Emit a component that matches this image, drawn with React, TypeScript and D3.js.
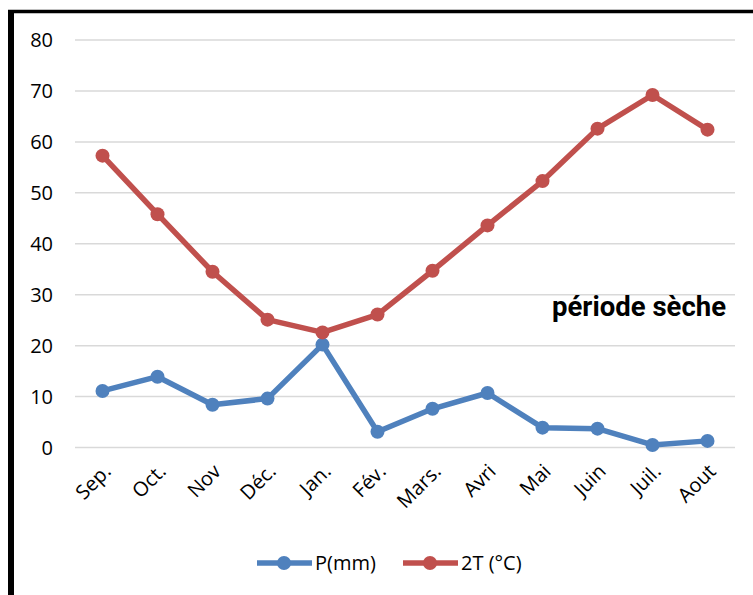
import React from "react";
import * as d3 from "d3";

const months = ["Sep.", "Oct.", "Nov", "Déc.", "Jan.", "Fév.", "Mars.", "Avri", "Mai", "Juin", "Juil.", "Aout"];
const precipitation = [11.1, 13.9, 8.4, 9.6, 20.2, 3.1, 7.6, 10.7, 3.9, 3.7, 0.5, 1.3];
const doubleTemp = [57.3, 45.8, 34.5, 25.1, 22.6, 26.1, 34.7, 43.6, 52.3, 62.6, 69.2, 62.4];
const yTicks = [0, 10, 20, 30, 40, 50, 60, 70, 80];
const seriesNames = ["P(mm)", "2T (°C)"];
const annotation = "période sèche";

const W = 753;
const H = 595;
const BLUE = "#4F81BD";
const RED = "#C0504D";
const FONT = "'Open Sans', 'Noto Sans', sans-serif";

export default function App() {
  const x = d3.scaleBand<string>().domain(months).range([75, 735]);
  const y = d3.scaleLinear().domain([0, 80]).range([447.5, 40]);
  const cx = (m: string) => (x(m) ?? 0) + x.bandwidth() / 2;

  const line = d3
    .line<number>()
    .x((_, i) => cx(months[i]))
    .y((v) => y(v));

  const series = [
    { name: seriesNames[0], values: precipitation, color: BLUE },
    { name: seriesNames[1], values: doubleTemp, color: RED },
  ];

  return (
    <svg
      width={W}
      height={H}
      style={{ position: "absolute", left: 0, top: 0, background: "#fff" }}
    >
      {/* frame */}
      <line x1={8} x2={W} y1={11.5} y2={11.5} stroke="#000" strokeWidth={3.5} />
      <line x1={11} x2={11} y1={10} y2={H} stroke="#000" strokeWidth={6} />

      {/* gridlines and y tick labels */}
      {yTicks.map((t) => (
        <g key={t}>
          <line x1={75} x2={735} y1={y(t)} y2={y(t)} stroke="#d9d9d9" strokeWidth={1.5} />
          <text
            x={53}
            y={y(t)}
            dy="0.36em"
            textAnchor="end"
            fontFamily={FONT}
            fontSize={20}
            fill="#000"
          >
            {t}
          </text>
        </g>
      ))}

      {/* x category labels */}
      {months.map((m) => (
        <text
          key={m}
          transform={`translate(${cx(m) - 1},${462}) rotate(-45)`}
          textAnchor="end"
          dy="0.75em"
          fontFamily={FONT}
          fontSize={20}
          fill="#000"
        >
          {m}
        </text>
      ))}

      {/* series */}
      {series.map((s) => (
        <g key={s.name}>
          <path
            d={line(s.values) ?? ""}
            fill="none"
            stroke={s.color}
            strokeWidth={5.5}
            strokeLinejoin="round"
          />
          {s.values.map((v, i) => (
            <circle key={i} cx={cx(months[i])} cy={y(v)} r={7} fill={s.color} />
          ))}
        </g>
      ))}

      <text
        x={552}
        y={316}
        fontFamily="Roboto, 'Liberation Sans', Arial, sans-serif"
        fontWeight="bold"
        fontSize={27}
        textLength={174}
        lengthAdjust="spacingAndGlyphs"
        fill="#000"
      >
        {annotation}
      </text>

      {/* legend */}
      {series.map((s, i) => {
        const lx = i === 0 ? 257 : 403;
        return (
          <g key={s.name}>
            <line x1={lx} x2={lx + 55} y1={563} y2={563} stroke={s.color} strokeWidth={5.5} />
            <circle cx={lx + 27} cy={563} r={7} fill={s.color} />
            <text
              x={lx + 58}
              y={563}
              dy="0.36em"
              fontFamily={FONT}
              fontSize={20}
              fill="#000"
            >
              {s.name}
            </text>
          </g>
        );
      })}
    </svg>
  );
}
